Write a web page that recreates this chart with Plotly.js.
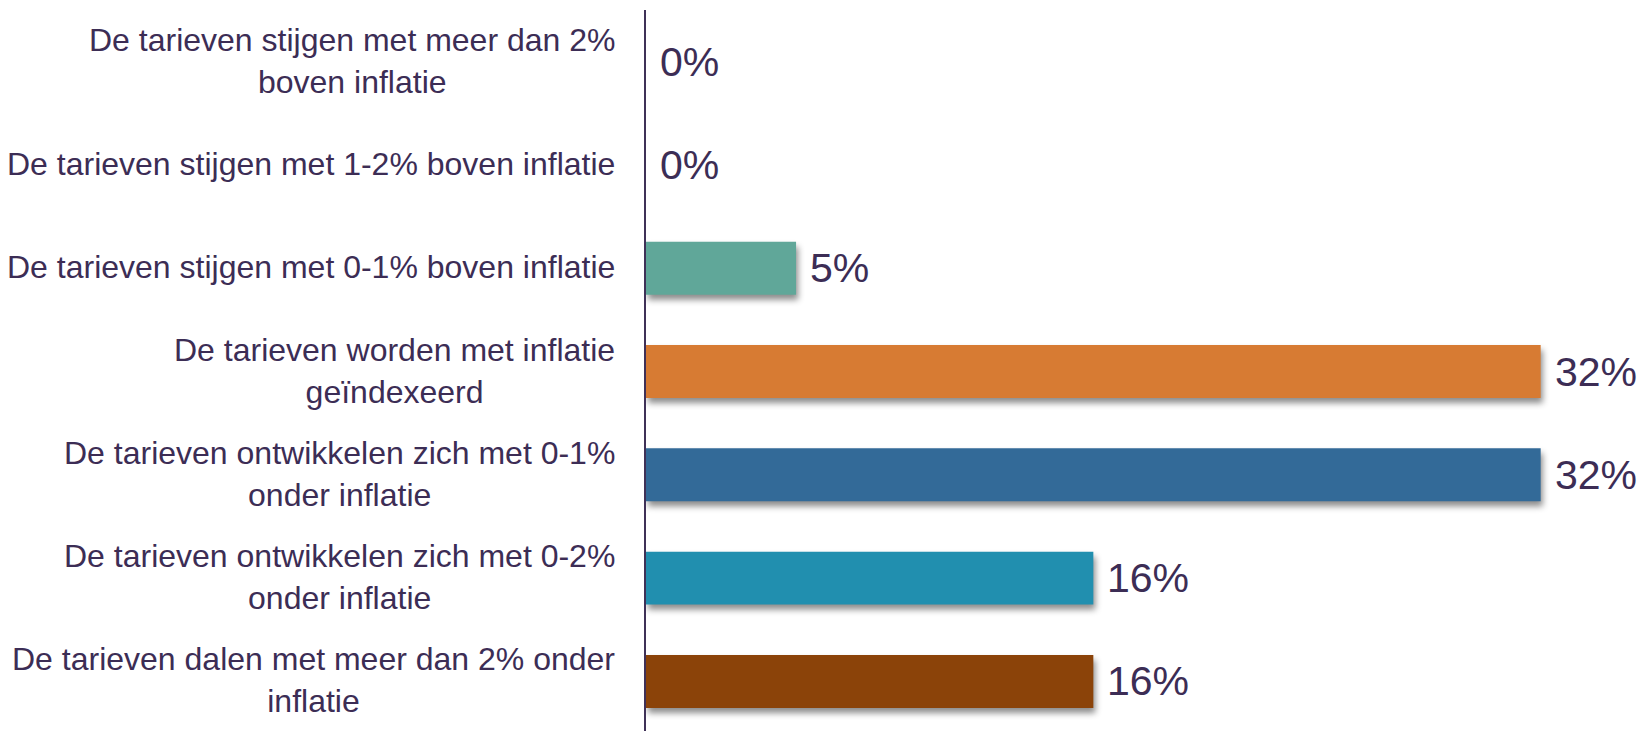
<!DOCTYPE html>
<html>
<head>
<meta charset="utf-8">
<script src="https://cdn.plot.ly/plotly-3.0.1.min.js"></script>
<style>
  html, body { margin: 0; padding: 0; background: #ffffff; }
  #chart { width: 1644px; height: 731px; }
  .barlayer .point path { filter: drop-shadow(2px 5px 3px rgba(0,0,0,0.45)); }
</style>
</head>
<body>
<div id="chart"></div>
<script>
// Data
const categories = [
  "De tarieven stijgen met meer dan 2%<br>boven inflatie",
  "De tarieven stijgen met 1-2% boven inflatie",
  "De tarieven stijgen met 0-1% boven inflatie",
  "De tarieven worden met inflatie<br>geïndexeerd",
  "De tarieven ontwikkelen zich met 0-1%<br>onder inflatie",
  "De tarieven ontwikkelen zich met 0-2%<br>onder inflatie",
  "De tarieven dalen met meer dan 2% onder<br>inflatie"
];
const values = [0, 0, 5.3, 31.6, 31.6, 15.8, 15.8];

// Styles
const barColors = ["#60A799", "#60A799", "#60A799", "#D77B33", "#336A98", "#218FAF", "#8B4309"];
const textColor = "#3C2D55";
const fontFamily = "Liberation Sans, Arial, sans-serif";

const trace = {
  type: "bar",
  orientation: "h",
  x: values,
  y: categories,
  marker: { color: barColors, line: { width: 0 } },
  hoverinfo: "skip",
  cliponaxis: false
};

const annotations = [];
categories.forEach((c, i) => {
  annotations.push({
    xref: "paper", yref: "y",
    x: 0, y: c,
    xanchor: "right", yanchor: "middle",
    xshift: -29,
    yshift: 1,
    align: "center",
    showarrow: false,
    text: c,
    font: { family: fontFamily, size: 32, color: textColor }
  });
  annotations.push({
    xref: "x", yref: "y",
    x: values[i], y: c,
    xanchor: "left", yanchor: "middle",
    xshift: 12,
    showarrow: false,
    text: Math.round(values[i]) + "%",
    font: { family: fontFamily, size: 41, color: textColor }
  });
});

const layout = {
  width: 1644,
  height: 731,
  margin: { l: 646, r: 92, t: 10, b: 0, pad: 0 },
  paper_bgcolor: "#ffffff",
  plot_bgcolor: "#ffffff",
  showlegend: false,
  bargap: 0.487,
  xaxis: {
    range: [0, 32],
    showgrid: false, zeroline: false, showline: false,
    showticklabels: false, ticks: ""
  },
  yaxis: {
    type: "category",
    range: [6.48, -0.5],
    showgrid: false, zeroline: false,
    showline: true, linecolor: "#3F3157", linewidth: 2,
    showticklabels: false, ticks: ""
  },
  annotations: annotations,
  font: { family: fontFamily, color: textColor }
};

Plotly.newPlot("chart", [trace], layout, { displayModeBar: false, staticPlot: true });
</script>
</body>
</html>
